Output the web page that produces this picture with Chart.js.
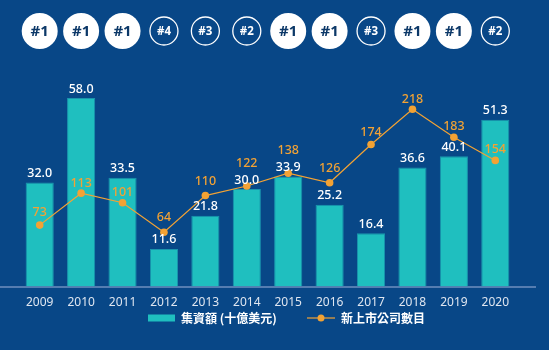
<!DOCTYPE html>
<html>
<head>
  <meta charset="utf-8">
  <title>IPO chart</title>
  <script src="https://cdn.jsdelivr.net/npm/chart.js"></script>
  <style>
    html, body { margin: 0; padding: 0; background: #084787; }
    #wrap { width: 549px; height: 350px; }
  </style>
</head>
<body>
  <div id="wrap">
    <canvas id="canvas"></canvas>
  </div>
  <script>
    var years = ['2009', '2010', '2011', '2012', '2013', '2014', '2015', '2016', '2017', '2018', '2019', '2020'];
    var capital = [32.0, 58.0, 33.5, 11.6, 21.8, 30.0, 33.9, 25.2, 16.4, 36.6, 40.1, 51.3];
    var listings = [73, 113, 101, 64, 110, 122, 138, 126, 174, 218, 183, 154];
    var ranks = ['#1', '#1', '#1', '#4', '#3', '#2', '#1', '#1', '#3', '#1', '#1', '#2'];
    var capitalLabel = '集資額 (十億美元)';
    var listingsLabel = '新上市公司數目';

    var BLUE = '#084787';
    var TEAL = '#1fbfbf';
    var ORANGE = '#f2a234';
    var NUM_FONT = '"Noto Sans", "Open Sans", sans-serif';
    var CJK_FONT = '"Noto Sans CJK TC", "Noto Sans", sans-serif';

    // how far each orange label sits above its point
    var lineLabelLift = [13, 10, 10, 15, 14, 23, 23, 14, 12, 10, 11, 11];

    var decorations = {
      id: 'decorations',
      beforeDatasetsDraw: function(chart) {
        var c = chart.ctx;
        var y0 = chart.scales.y.getPixelForValue(0);
        c.save();
        c.strokeStyle = '#6f8fbf';
        c.lineWidth = 1.5;
        c.beginPath();
        c.moveTo(0, y0 + 0.5);
        c.lineTo(536, y0 + 0.5);
        c.stroke();
        c.restore();
      },
      afterDatasetsDraw: function(chart) {
        var c = chart.ctx;
        var barMeta = chart.getDatasetMeta(0);
        var lineMeta = chart.getDatasetMeta(1);
        c.save();
        c.textAlign = 'center';
        c.textBaseline = 'middle';

        // bar values
        c.font = '500 12.5px ' + NUM_FONT;
        c.fillStyle = '#ffffff';
        barMeta.data.forEach(function(bar, i) {
          c.fillText(capital[i].toFixed(1), bar.x, bar.y - 9);
        });

        // line values
        c.fillStyle = ORANGE;
        lineMeta.data.forEach(function(pt, i) {
          c.fillText(String(listings[i]), pt.x, pt.y - lineLabelLift[i]);
        });

        // ranking badges on top
        var cy = 31;
        years.forEach(function(yr, i) {
          var x = chart.scales.x.getPixelForValue(i);
          var r = ranks[i];
          if (r === '#1') {
            c.fillStyle = '#ffffff';
            c.beginPath();
            c.arc(x, cy, 18, 0, Math.PI * 2);
            c.fill();
            c.fillStyle = '#0c3868';
            c.font = 'bold 15px ' + NUM_FONT;
            c.fillText(r, x, cy + 1);
          } else {
            c.strokeStyle = '#ffffff';
            c.lineWidth = 1.3;
            c.beginPath();
            c.arc(x, cy, 14, 0, Math.PI * 2);
            c.stroke();
            c.fillStyle = '#ffffff';
            c.font = 'bold 11.5px ' + NUM_FONT;
            c.fillText(r, x, cy + 1);
          }
        });

        // legend
        var ly = 318;
        c.fillStyle = TEAL;
        c.fillRect(148, ly - 3.5, 27, 7);
        c.font = 'bold 12px ' + CJK_FONT;
        c.fillStyle = '#ffffff';
        c.textAlign = 'left';
        c.fillText(capitalLabel, 181, ly);

        c.strokeStyle = ORANGE;
        c.lineWidth = 1.2;
        c.beginPath();
        c.moveTo(307, ly);
        c.lineTo(335, ly);
        c.stroke();
        c.fillStyle = ORANGE;
        c.beginPath();
        c.arc(321, ly, 3.5, 0, Math.PI * 2);
        c.fill();
        c.fillStyle = '#ffffff';
        c.fillText(listingsLabel, 341, ly);
        c.restore();
      }
    };

    var ctx = document.getElementById('canvas').getContext('2d');
    var config = {
      type: 'bar',
      data: {
        labels: years,
        datasets: [{
          type: 'bar',
          label: capitalLabel,
          data: capital,
          backgroundColor: TEAL,
          borderColor: '#1a95ad',
          borderWidth: 1,
          categoryPercentage: 1.0,
          barPercentage: 0.68,
          yAxisID: 'y',
          order: 1
        }, {
          type: 'line',
          label: listingsLabel,
          data: listings,
          borderColor: ORANGE,
          backgroundColor: ORANGE,
          borderWidth: 1.2,
          pointRadius: 3.8,
          pointBorderWidth: 0,
          pointBackgroundColor: ORANGE,
          tension: 0,
          yAxisID: 'y2',
          order: 0
        }]
      },
      options: {
        responsive: true,
        maintainAspectRatio: false,
        animation: false,
        layout: { padding: { left: 19, right: 33, top: 59, bottom: 39 } },
        plugins: {
          legend: { display: false },
          tooltip: { enabled: false }
        },
        scales: {
          x: {
            grid: { display: false },
            border: { display: false },
            ticks: {
              color: '#dfe6f0',
              font: { family: NUM_FONT, size: 12 },
              padding: 1,
              maxRotation: 0
            }
          },
          y: { display: false, min: 0, max: 70 },
          y2: { display: false, min: -4, max: 281, position: 'right' }
        }
      },
      plugins: [decorations]
    };
    var myChart = new Chart(ctx, config);
  </script>
</body>
</html>
